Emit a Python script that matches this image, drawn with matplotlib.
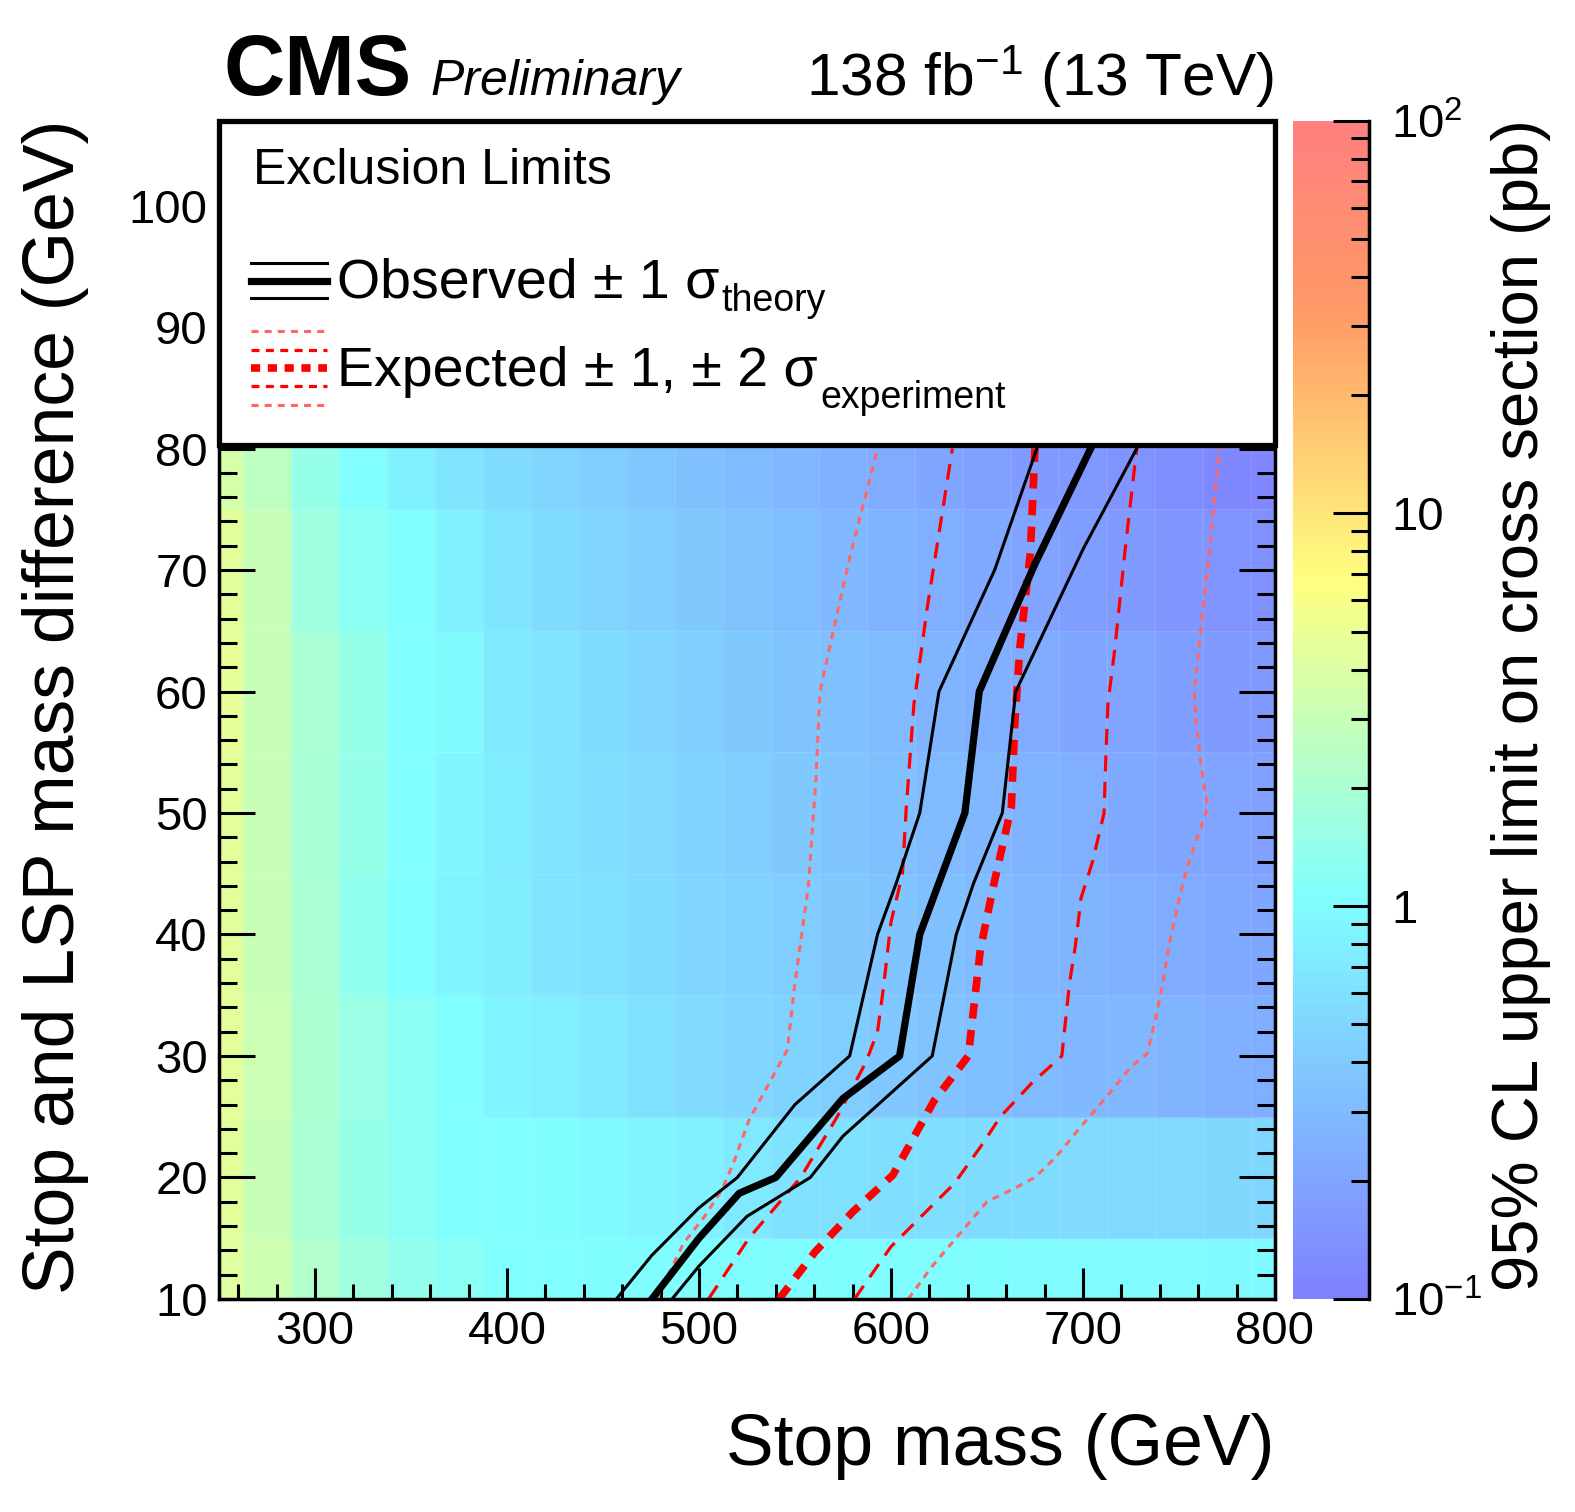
import numpy as np
import matplotlib
matplotlib.use("Agg")
import matplotlib.pyplot as plt
from matplotlib.colors import LinearSegmentedColormap, LogNorm
from matplotlib.patches import Rectangle
from matplotlib.ticker import MultipleLocator, LogLocator, NullFormatter

plt.rcParams['font.family'] = ['Liberation Sans', 'DejaVu Sans']
plt.rcParams['mathtext.fontset'] = 'custom'
plt.rcParams['mathtext.rm'] = 'Liberation Sans'
plt.rcParams['mathtext.it'] = 'Liberation Sans:italic'
plt.rcParams['mathtext.bf'] = 'Liberation Sans:bold'

# grid of signal points
mstop = [250, 275, 300, 325, 350, 375, 400, 425, 450, 475, 500, 525,
         550, 575, 600, 625, 650, 675, 700, 725, 750, 775, 800]
dm = [10, 20, 30, 40, 50, 60, 70, 80]

# 95% CL upper limit on cross section (pb), one row per dm
xsec_limit = [
    [4.2, 3.3, 2.2, 1.7, 1.4, 1.2, 1.05, 1.05, 1.0, 1.0, 1.0, 1.0, 1.0, 1.0, 1.0, 1.0, 1.0, 0.98, 0.98, 0.97, 0.97, 0.96, 0.95],
    [4.4, 3.0, 1.95, 1.45, 1.25, 1.05, 1.05, 1.0, 0.95, 0.9, 0.8, 0.68, 0.62, 0.6, 0.58, 0.57, 0.56, 0.55, 0.54, 0.53, 0.52, 0.51, 0.5],
    [4.5, 3.1, 2.1, 1.55, 1.25, 1.05, 0.88, 0.78, 0.68, 0.6, 0.54, 0.5, 0.46, 0.42, 0.38, 0.35, 0.32, 0.3, 0.29, 0.28, 0.27, 0.25, 0.24],
    [4.4, 3.0, 1.95, 1.35, 1.05, 0.88, 0.76, 0.66, 0.6, 0.55, 0.5, 0.46, 0.42, 0.39, 0.36, 0.33, 0.31, 0.29, 0.27, 0.25, 0.23, 0.22, 0.21],
    [4.5, 3.0, 1.9, 1.45, 1.05, 0.9, 0.75, 0.65, 0.58, 0.52, 0.47, 0.43, 0.39, 0.36, 0.33, 0.3, 0.28, 0.26, 0.24, 0.22, 0.21, 0.2, 0.19],
    [4.7, 3.0, 1.95, 1.45, 1.05, 0.95, 0.72, 0.63, 0.55, 0.48, 0.43, 0.39, 0.36, 0.33, 0.3, 0.27, 0.25, 0.23, 0.21, 0.2, 0.18, 0.17, 0.16],
    [4.4, 3.0, 1.65, 1.25, 1.05, 0.8, 0.66, 0.56, 0.48, 0.43, 0.39, 0.35, 0.32, 0.29, 0.26, 0.24, 0.22, 0.2, 0.18, 0.17, 0.155, 0.145, 0.135],
    [3.7, 2.6, 1.45, 1.05, 0.8, 0.65, 0.55, 0.48, 0.42, 0.37, 0.33, 0.3, 0.28, 0.25, 0.23, 0.21, 0.19, 0.17, 0.16, 0.145, 0.13, 0.12, 0.115],
]

# exclusion contours (stop mass, mass difference)
obs_x = [475.5, 500, 521, 540, 575, 604.5, 615, 638.5, 646, 675, 704]
obs_y = [10, 15, 18.7, 20, 26.5, 30, 40, 50, 60, 70.5, 80]
obs_m1_x = [457, 475.5, 500, 520, 550, 578.5, 593, 602.7, 615, 625, 654, 676]
obs_m1_y = [10, 13.6, 17.5, 20, 26, 30, 40, 44.2, 50, 60, 70, 80]
obs_p1_x = [486, 500, 525, 558, 575, 621.5, 634, 643, 658, 665, 700, 728]
obs_p1_y = [10, 12.7, 16.8, 20, 23.4, 30, 40, 44.2, 50, 60, 71.7, 80]

exp_x = [541.8, 560.6, 580.3, 601, 622.4, 640.3, 643, 646.6, 653.8, 662.7, 664.5, 667.2, 672.6, 675]
exp_y = [10, 13.9, 17.2, 20.2, 26.3, 30, 33.8, 38.8, 44.3, 50.5, 57.4, 63.7, 71.4, 80]
exp_m1_x = [505, 526, 553, 572, 587, 593, 596, 600, 606, 608, 612, 619, 627, 632]
exp_m1_y = [10, 15, 20, 25, 29.5, 32, 35.5, 41, 45, 50.5, 59, 67, 75, 80]
exp_p1_x = [581, 600, 619, 633, 647, 657, 673.5, 689, 693, 696, 699, 705, 711, 712, 713, 716.5, 722, 728]
exp_p1_y = [10, 14.3, 17.3, 19.5, 22.6, 25, 27.8, 30, 36, 39, 43, 46, 50, 55, 59, 63.4, 71.7, 80]
exp_m2_x = [478, 492, 503, 512, 518, 526, 546, 550, 557, 561, 563, 570, 578.5, 593]
exp_m2_y = [10, 14.6, 16.8, 19, 21.2, 24.7, 30.5, 36, 44, 53, 60, 65, 71, 80]
exp_p2_x = [609, 621.5, 636, 650, 663, 675, 686, 699, 711, 725, 733.5, 738, 741.6, 745, 749.6, 754, 765, 762, 759, 758, 763, 766, 771]
exp_p2_y = [10, 12.7, 15.4, 18, 19, 20, 21.7, 24.2, 26.4, 29.1, 30.2, 33.2, 36, 39.3, 42.6, 45.4, 50.5, 53.3, 57.4, 60, 67.6, 71.7, 80]

# CMS SUSY palette
cmap = LinearSegmentedColormap.from_list("susy", [
    (0.00, (0.50, 0.50, 1.00)),
    (0.34, (0.50, 1.00, 1.00)),
    (0.61, (1.00, 1.00, 0.50)),
    (0.84, (1.00, 0.60, 0.40)),
    (1.00, (1.00, 0.50, 0.50))], N=256)

fig = plt.figure(figsize=(15.75, 15.12), dpi=100)
ax = fig.add_axes([0.139, 0.1409, 0.6705, 0.7794])

mx = np.array(mstop, dtype=float)
my = np.array(dm, dtype=float)
xe = np.append(mx - 12.5, mx[-1] + 12.5)
ye = np.append(my - 5, my[-1] + 5)
mesh = ax.pcolormesh(xe, ye, np.array(xsec_limit), cmap=cmap,
                     norm=LogNorm(0.1, 100), shading='flat',
                     edgecolors=(1, 1, 1, 0.12), linewidth=0.6)

ax.plot(exp_m2_x, exp_m2_y, color='#ff6666', lw=2.2, dashes=(2.3, 2))
ax.plot(exp_p2_x, exp_p2_y, color='#ff6666', lw=2.2, dashes=(2.3, 2))
ax.plot(exp_m1_x, exp_m1_y, color='red', lw=2.3, dashes=(5, 3.3))
ax.plot(exp_p1_x, exp_p1_y, color='red', lw=2.3, dashes=(5, 3.3))
ax.plot(exp_x, exp_y, color='red', lw=5.5, dashes=(2, 1.5))
ax.plot(obs_m1_x, obs_m1_y, color='black', lw=2.2)
ax.plot(obs_p1_x, obs_p1_y, color='black', lw=2.2)
ax.plot(obs_x, obs_y, color='black', lw=5.2)

ax.set_xlim(250, 800)
ax.set_ylim(10, 107)
ax.xaxis.set_major_locator(MultipleLocator(100))
ax.xaxis.set_minor_locator(MultipleLocator(20))
ax.yaxis.set_major_locator(MultipleLocator(10))
ax.yaxis.set_minor_locator(MultipleLocator(2))
ax.tick_params(which='both', direction='in', top=True, right=True, width=2.2)
ax.tick_params(axis='y', which='major', length=26, labelsize=34, pad=8)
ax.tick_params(axis='y', which='minor', length=13)
ax.tick_params(axis='x', which='major', length=22, labelsize=34, pad=8)
ax.tick_params(axis='x', which='minor', length=11)
for s in ax.spines.values():
    s.set_linewidth(2.5)

# legend box
ax.add_patch(Rectangle((0, 0.7247), 1, 0.2753, transform=ax.transAxes,
                       facecolor='white', edgecolor='black', lw=3.8,
                       zorder=10, clip_on=False))
ax.text(0.032, 0.957, "Exclusion Limits", transform=ax.transAxes,
        fontsize=36, va='center', zorder=12)
lx = [0.030, 0.102]
ax.plot(lx, [0.879, 0.879], transform=ax.transAxes, color='k', lw=2.2, zorder=11)
ax.plot(lx, [0.864, 0.864], transform=ax.transAxes, color='k', lw=5.2, zorder=11)
ax.plot(lx, [0.849, 0.849], transform=ax.transAxes, color='k', lw=2.2, zorder=11)
ax.plot(lx, [0.821, 0.821], transform=ax.transAxes, color='#ff6666', lw=2.2, dashes=(2.3, 2), zorder=11)
ax.plot(lx, [0.805, 0.805], transform=ax.transAxes, color='red', lw=2.3, dashes=(2.5, 2), zorder=11)
ax.plot(lx, [0.790, 0.790], transform=ax.transAxes, color='red', lw=5.5, dashes=(1.2, 1), zorder=11)
ax.plot(lx, [0.775, 0.775], transform=ax.transAxes, color='red', lw=2.3, dashes=(2.5, 2), zorder=11)
ax.plot(lx, [0.759, 0.759], transform=ax.transAxes, color='#ff6666', lw=2.2, dashes=(2.3, 2), zorder=11)

t_obs = ax.text(0.112, 0.8494, "Observed ± 1 σ", transform=ax.transAxes,
                fontsize=40, va='baseline', zorder=12)
t_exp = ax.text(0.112, 0.775, "Expected ± 1, ± 2 σ", transform=ax.transAxes,
                fontsize=40, va='baseline', zorder=12)
fig.canvas.draw()
rend = fig.canvas.get_renderer()
inv = ax.transAxes.inverted()
x_obs = inv.transform((t_obs.get_window_extent(rend).x1, 0))[0]
x_exp = inv.transform((t_exp.get_window_extent(rend).x1, 0))[0]
ax.text(x_obs + 0.002, 0.838, "theory", transform=ax.transAxes,
        fontsize=27, va='baseline', zorder=12)
ax.text(x_exp + 0.002, 0.756, "experiment", transform=ax.transAxes,
        fontsize=27, va='baseline', zorder=12)

# colour bar
cax = fig.add_axes([0.821, 0.1409, 0.0483, 0.7794])
cb = fig.colorbar(mesh, cax=cax)
cb.outline.set_visible(False)
cax.plot([1, 1], [0, 1], transform=cax.transAxes, color='k', lw=2.5, clip_on=False)
cb.set_ticks([0.1, 1, 10, 100])
cb.set_ticklabels([r'$10^{-1}$', '1', '10', r'$10^{2}$'])
cax.yaxis.set_minor_locator(LogLocator(base=10, subs=range(2, 10)))
cax.yaxis.set_minor_formatter(NullFormatter())
cax.tick_params(which='both', direction='in', width=2.2, right=True, left=False)
cax.tick_params(which='major', length=26, labelsize=34, pad=16)
cax.tick_params(which='minor', length=13)

# titles and labels
fig.text(0.1416, 0.937, "CMS", fontsize=61, fontweight='bold', va='baseline')
fig.text(0.273, 0.937, "Preliminary", fontsize=36, style='italic', va='baseline')
fig.text(0.809, 0.937, "138 fb$^{-1}$ (13 TeV)", fontsize=43.5, ha='right', va='baseline')
fig.text(0.809, 0.0435, "Stop mass (GeV)", fontsize=51.5, ha='right', va='center')
fig.text(0.035, 0.921, "Stop and LSP mass difference (GeV)", rotation=90,
         fontsize=51.5, ha='center', va='top')
fig.text(0.966, 0.921, "95% CL upper limit on cross section (pb)", rotation=90,
         fontsize=47, ha='center', va='top')

fig.savefig("out.png", dpi=100)
